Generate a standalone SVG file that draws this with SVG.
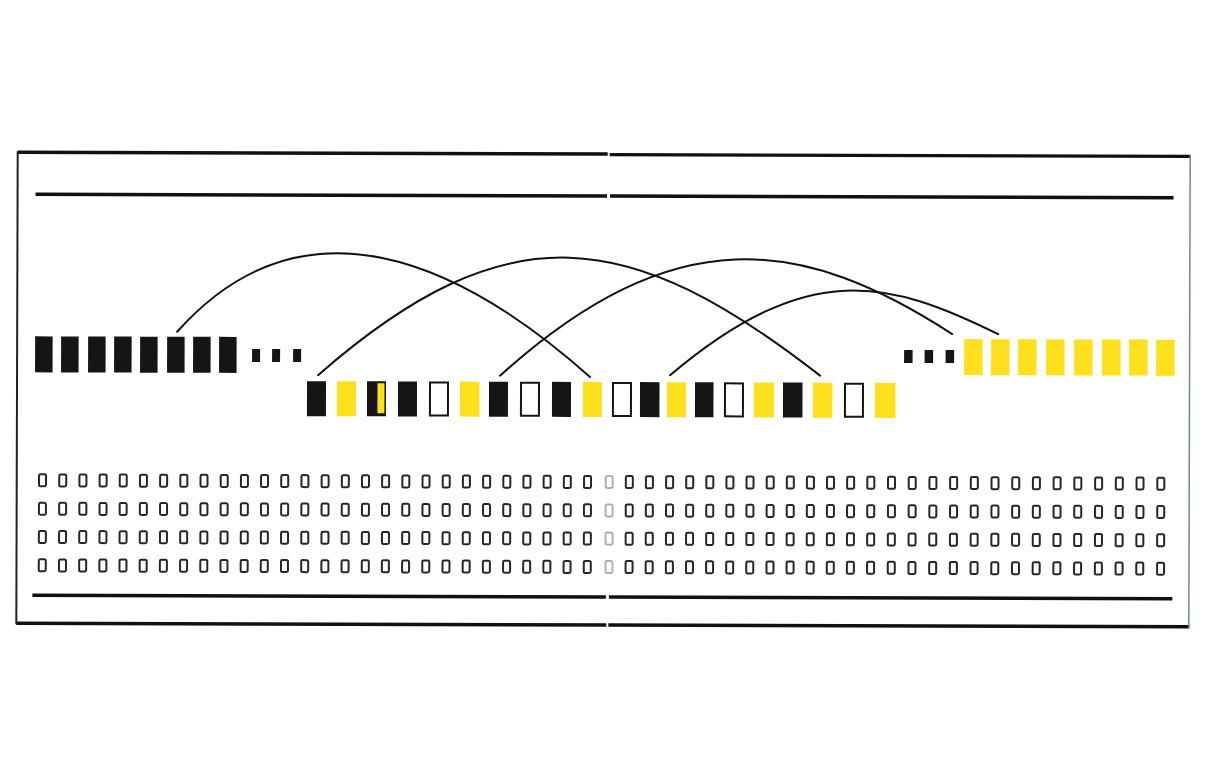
<svg xmlns="http://www.w3.org/2000/svg" xmlns:xlink="http://www.w3.org/1999/xlink" width="1207" height="779" viewBox="0 0 1207 779">
<style>
.blk{fill:#151515}
.yel{fill:#FFE01E}
.out{fill:#ffffff;stroke:#151515;stroke-width:2}
.dot{fill:#151515}
.cell{fill:none;stroke:#262626;stroke-width:2}
.faint{stroke:#b0b0b0}
.arc{fill:none;stroke:#111111;stroke-width:2;stroke-linecap:round}
.rule{stroke:#111111;stroke-width:3.4;fill:none}
.edge{stroke:#222222;stroke-width:2;fill:none}
.edge2{stroke:#6f8798;stroke-width:1.5;fill:none}
</style>
<defs>
<g id="gridrow">
<rect class="cell" x="39.3" y="1" width="7" height="12" rx="1.5"/>
<rect class="cell" x="59.5" y="1" width="7" height="12" rx="1.5"/>
<rect class="cell" x="79.7" y="1" width="7" height="12" rx="1.5"/>
<rect class="cell" x="99.9" y="1" width="7" height="12" rx="1.5"/>
<rect class="cell" x="120.0" y="1" width="7" height="12" rx="1.5"/>
<rect class="cell" x="140.2" y="1" width="7" height="12" rx="1.5"/>
<rect class="cell" x="160.4" y="1" width="7" height="12" rx="1.5"/>
<rect class="cell" x="180.6" y="1" width="7" height="12" rx="1.5"/>
<rect class="cell" x="200.8" y="1" width="7" height="12" rx="1.5"/>
<rect class="cell" x="221.0" y="1" width="7" height="12" rx="1.5"/>
<rect class="cell" x="241.2" y="1" width="7" height="12" rx="1.5"/>
<rect class="cell" x="261.3" y="1" width="7" height="12" rx="1.5"/>
<rect class="cell" x="281.5" y="1" width="7" height="12" rx="1.5"/>
<rect class="cell" x="301.7" y="1" width="7" height="12" rx="1.5"/>
<rect class="cell" x="321.9" y="1" width="7" height="12" rx="1.5"/>
<rect class="cell" x="342.1" y="1" width="7" height="12" rx="1.5"/>
<rect class="cell" x="362.3" y="1" width="7" height="12" rx="1.5"/>
<rect class="cell" x="382.4" y="1" width="7" height="12" rx="1.5"/>
<rect class="cell" x="402.6" y="1" width="7" height="12" rx="1.5"/>
<rect class="cell" x="422.8" y="1" width="7" height="12" rx="1.5"/>
<rect class="cell" x="443.0" y="1" width="7" height="12" rx="1.5"/>
<rect class="cell" x="463.2" y="1" width="7" height="12" rx="1.5"/>
<rect class="cell" x="483.4" y="1" width="7" height="12" rx="1.5"/>
<rect class="cell" x="503.6" y="1" width="7" height="12" rx="1.5"/>
<rect class="cell" x="523.7" y="1" width="7" height="12" rx="1.5"/>
<rect class="cell" x="543.9" y="1" width="7" height="12" rx="1.5"/>
<rect class="cell" x="564.1" y="1" width="7" height="12" rx="1.5"/>
<rect class="cell" x="584.3" y="1" width="7" height="12" rx="1.5"/>
<rect class="cell faint" x="606.0" y="1" width="7" height="12" rx="1.5"/>
<rect class="cell" x="626.1" y="1" width="7" height="12" rx="1.5"/>
<rect class="cell" x="646.2" y="1" width="7" height="12" rx="1.5"/>
<rect class="cell" x="666.4" y="1" width="7" height="12" rx="1.5"/>
<rect class="cell" x="686.5" y="1" width="7" height="12" rx="1.5"/>
<rect class="cell" x="706.6" y="1" width="7" height="12" rx="1.5"/>
<rect class="cell" x="726.7" y="1" width="7" height="12" rx="1.5"/>
<rect class="cell" x="746.8" y="1" width="7" height="12" rx="1.5"/>
<rect class="cell" x="767.0" y="1" width="7" height="12" rx="1.5"/>
<rect class="cell" x="787.1" y="1" width="7" height="12" rx="1.5"/>
<rect class="cell" x="807.2" y="1" width="7" height="12" rx="1.5"/>
<rect class="cell" x="827.3" y="1" width="7" height="12" rx="1.5"/>
<rect class="cell" x="847.4" y="1" width="7" height="12" rx="1.5"/>
<rect class="cell" x="867.6" y="1" width="7" height="12" rx="1.5"/>
<rect class="cell" x="888.3" y="1" width="7" height="12" rx="1.5"/>
<rect class="cell" x="909.0" y="1" width="7" height="12" rx="1.5"/>
<rect class="cell" x="929.7" y="1" width="7" height="12" rx="1.5"/>
<rect class="cell" x="950.4" y="1" width="7" height="12" rx="1.5"/>
<rect class="cell" x="971.1" y="1" width="7" height="12" rx="1.5"/>
<rect class="cell" x="991.8" y="1" width="7" height="12" rx="1.5"/>
<rect class="cell" x="1012.5" y="1" width="7" height="12" rx="1.5"/>
<rect class="cell" x="1033.2" y="1" width="7" height="12" rx="1.5"/>
<rect class="cell" x="1053.9" y="1" width="7" height="12" rx="1.5"/>
<rect class="cell" x="1074.6" y="1" width="7" height="12" rx="1.5"/>
<rect class="cell" x="1095.4" y="1" width="7" height="12" rx="1.5"/>
<rect class="cell" x="1116.1" y="1" width="7" height="12" rx="1.5"/>
<rect class="cell" x="1136.8" y="1" width="7" height="12" rx="1.5"/>
<rect class="cell" x="1157.6" y="1" width="7" height="12" rx="1.5"/>
</g>
</defs>
<rect x="0" y="0" width="1207" height="779" fill="#ffffff"/>
<g transform="rotate(0.17 600 390)">
<g id="frame">
<path class="rule" d="M17,154 H607 M609,154.6 H1190"/>
<path class="rule" d="M35,196 H606.5 M609.5,196 H1173"/>
<path class="rule" d="M33,597 H606.5 M609.5,597 H1173"/>
<path class="rule" d="M17,625 H607 M609,625 H1190"/>
<path class="edge" d="M17,153 V626"/>
<path class="edge2" d="M1189.5,153 V626"/>
</g>
<g id="left-blocks">
<g id="L1"><rect class="blk" x="35" y="338" width="17.5" height="36"/></g>
<g id="L2"><rect class="blk" x="61" y="338" width="17.5" height="36"/></g>
<g id="L3"><rect class="blk" x="88" y="338" width="17.5" height="36"/></g>
<g id="L4"><rect class="blk" x="114" y="338" width="17.5" height="36"/></g>
<g id="L5"><rect class="blk" x="140" y="338" width="17.5" height="36"/></g>
<g id="L6"><rect class="blk" x="167" y="338" width="17.5" height="36"/></g>
<g id="L7"><rect class="blk" x="193" y="338" width="17.5" height="36"/></g>
<g id="L8"><rect class="blk" x="219" y="338" width="17.5" height="36"/></g>
<g id="L-ellipsis"><rect class="dot" x="252" y="350" width="8" height="13"/><rect class="dot" x="272" y="350" width="8" height="13"/><rect class="dot" x="293" y="350" width="8" height="13"/></g>
</g>
<g id="middle-row">
<g id="M1"><rect class="blk" x="307" y="382" width="19" height="35"/></g>
<g id="M2"><rect class="yel" x="337" y="382" width="19" height="35"/></g>
<g id="M3"><rect class="blk" x="367" y="382" width="19" height="35"/><rect class="yel" x="377.5" y="384" width="7" height="30"/></g>
<g id="M4"><rect class="blk" x="398" y="382" width="19" height="35"/></g>
<g id="M5"><rect class="out" x="430" y="383" width="18" height="33"/></g>
<g id="M6"><rect class="yel" x="460" y="382" width="19.5" height="35"/></g>
<g id="M7"><rect class="blk" x="489" y="382" width="19" height="35"/></g>
<g id="M8"><rect class="out" x="521" y="383" width="18" height="33"/></g>
<g id="M9"><rect class="blk" x="552" y="382" width="19" height="35"/></g>
<g id="M10"><rect class="yel" x="583" y="382" width="19" height="35"/></g>
<g id="M11"><rect class="out" x="613" y="383" width="18" height="33"/></g>
<g id="M12"><rect class="blk" x="640" y="382" width="19.5" height="35"/></g>
<g id="M13"><rect class="yel" x="667" y="382" width="19" height="35"/></g>
<g id="M14"><rect class="blk" x="695" y="382" width="18.5" height="35"/></g>
<g id="M15"><rect class="out" x="725" y="383" width="18" height="33"/></g>
<g id="M16"><rect class="yel" x="754" y="382" width="20" height="35"/></g>
<g id="M17"><rect class="blk" x="783" y="382" width="19.5" height="35"/></g>
<g id="M18"><rect class="yel" x="813" y="382" width="19.5" height="35"/></g>
<g id="M19"><rect class="out" x="845" y="383" width="18" height="33"/></g>
<g id="M20"><rect class="yel" x="875" y="382" width="20.5" height="35"/></g>
</g>
<g id="right-blocks">
<g id="R-ellipsis"><rect class="dot" x="904" y="349" width="8.5" height="13"/><rect class="dot" x="924.5" y="349" width="8.5" height="13"/><rect class="dot" x="945.5" y="349" width="8.5" height="13"/></g>
<g id="R1"><rect class="yel" x="964" y="338" width="18.5" height="36"/></g>
<g id="R2"><rect class="yel" x="991" y="338" width="18.5" height="36"/></g>
<g id="R3"><rect class="yel" x="1018" y="338" width="18.5" height="36"/></g>
<g id="R4"><rect class="yel" x="1046" y="338" width="18.5" height="36"/></g>
<g id="R5"><rect class="yel" x="1074" y="338" width="18.5" height="36"/></g>
<g id="R6"><rect class="yel" x="1102" y="338" width="18.5" height="36"/></g>
<g id="R7"><rect class="yel" x="1129" y="338" width="18.5" height="36"/></g>
<g id="R8"><rect class="yel" x="1156" y="338" width="18.5" height="36"/></g>
</g>
<g id="grid">
<use xlink:href="#gridrow" href="#gridrow" x="0" y="475"/>
<use xlink:href="#gridrow" href="#gridrow" x="0" y="503.4"/>
<use xlink:href="#gridrow" href="#gridrow" x="0" y="531.6"/>
<use xlink:href="#gridrow" href="#gridrow" x="0" y="560"/>
</g>
<g id="connectors">
<path class="arc" d="M177,333 C303,191 460,262 590,377"/>
<path class="arc" d="M318,376 C508,209 630,228 820,375"/>
<path class="arc" d="M500,376 C674,218 802,236.5 952,333"/>
<path class="arc" d="M670,375 C808,257.7 889,279.5 998,333"/>
</g>
</g>
</svg>
